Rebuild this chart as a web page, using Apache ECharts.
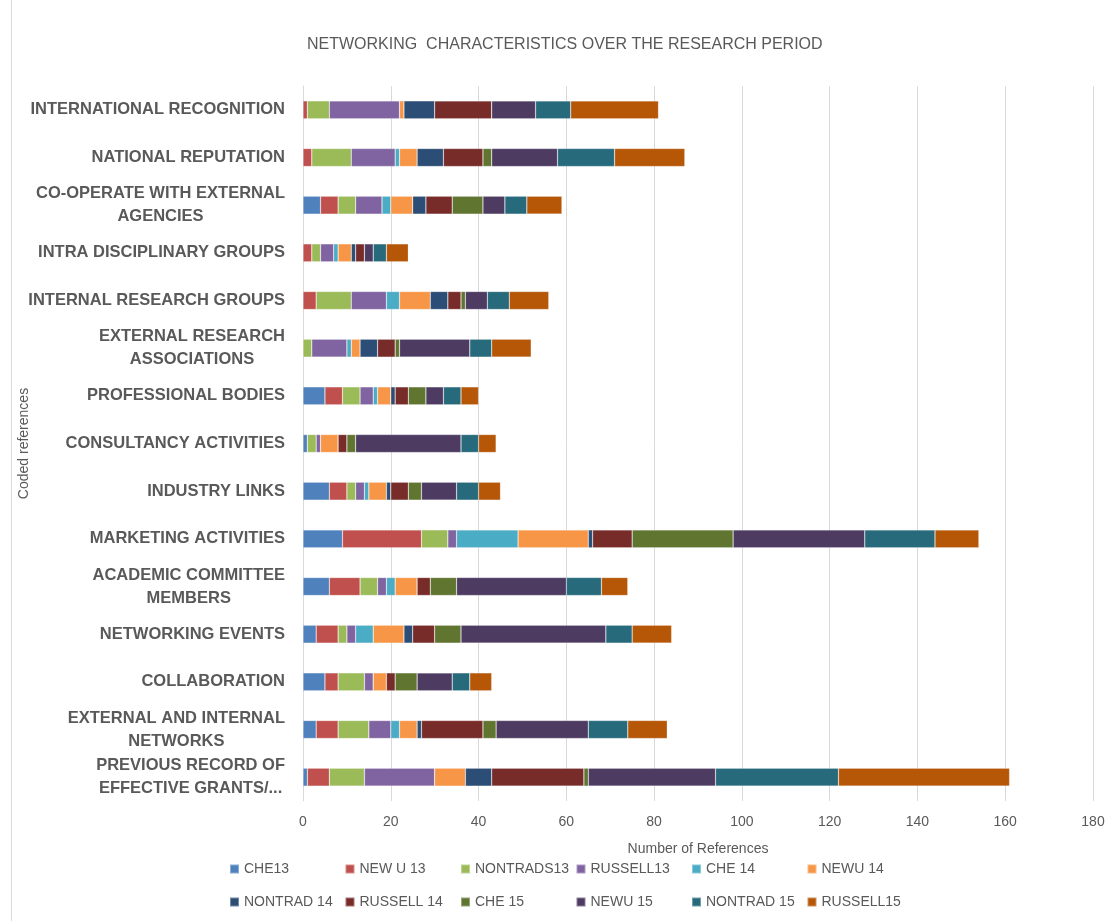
<!DOCTYPE html>
<html>
<head>
<meta charset="utf-8">
<script src="https://cdn.jsdelivr.net/npm/echarts@6/dist/echarts.min.js"></script>
<style>
  html, body { margin: 0; padding: 0; background: #ffffff; }
  #chart { width: 1109px; height: 921px; }
</style>
</head>
<body>
<div id="chart"></div>
<script>
// Coded themes, listed top to bottom
const categories = [
  'INTERNATIONAL RECOGNITION',
  'NATIONAL REPUTATION',
  'CO-OPERATE WITH EXTERNAL\nAGENCIES',
  'INTRA DISCIPLINARY GROUPS',
  'INTERNAL RESEARCH GROUPS',
  'EXTERNAL RESEARCH\nASSOCIATIONS',
  'PROFESSIONAL BODIES',
  'CONSULTANCY ACTIVITIES',
  'INDUSTRY LINKS',
  'MARKETING ACTIVITIES',
  'ACADEMIC COMMITTEE\nMEMBERS',
  'NETWORKING EVENTS',
  'COLLABORATION',
  'EXTERNAL AND INTERNAL\nNETWORKS',
  'PREVIOUS RECORD OF\nEFFECTIVE GRANTS/...'
];

// Number of references per institution group and year
const che13      = [0, 0, 4, 0, 0, 0, 5, 1, 6, 9, 6, 3, 5, 3, 1];
const newu13     = [1, 2, 4, 2, 3, 0, 4, 0, 4, 18, 7, 5, 3, 5, 5];
const nontrads13 = [5, 9, 4, 2, 8, 2, 4, 2, 2, 6, 4, 2, 6, 7, 8];
const russell13  = [16, 10, 6, 3, 8, 8, 3, 1, 2, 2, 2, 2, 2, 5, 16];
const che14      = [0, 1, 2, 1, 3, 1, 1, 0, 1, 14, 2, 4, 0, 2, 0];
const newu14     = [1, 4, 5, 3, 7, 2, 3, 4, 4, 16, 5, 7, 3, 4, 7];
const nontrad14  = [7, 6, 3, 1, 4, 4, 1, 0, 1, 1, 0, 2, 0, 1, 6];
const russell14  = [13, 9, 6, 2, 3, 4, 3, 2, 4, 9, 3, 5, 2, 14, 21];
const che15      = [0, 2, 7, 0, 1, 1, 4, 2, 3, 23, 6, 6, 5, 3, 1];
const newu15     = [10, 15, 5, 2, 5, 16, 4, 24, 8, 30, 25, 33, 8, 21, 29];
const nontrad15  = [8, 13, 5, 3, 5, 5, 4, 4, 5, 16, 8, 6, 4, 9, 28];
const russell15  = [20, 16, 8, 5, 9, 9, 4, 4, 5, 10, 6, 9, 5, 9, 39];

const seriesNames = ['CHE13', 'NEW U 13', 'NONTRADS13', 'RUSSELL13', 'CHE 14', 'NEWU 14',
                     'NONTRAD 14', 'RUSSELL 14', 'CHE 15', 'NEWU 15', 'NONTRAD 15', 'RUSSELL15'];
const seriesValues = [che13, newu13, nontrads13, russell13, che14, newu14,
                      nontrad14, russell14, che15, newu15, nontrad15, russell15];
const seriesColors = ['#4F81BD', '#C0504D', '#9BBB59', '#8064A2', '#4BACC6', '#F79646',
                      '#2C4D75', '#772C2A', '#5F7530', '#4D3B62', '#276A7C', '#B65708'];

const xTicks = { min: 0, max: 180, interval: 20 };

const FONT = "'Liberation Sans', Arial, sans-serif";
const GREY = '#595959';

const chart = echarts.init(document.getElementById('chart'), null, { renderer: 'canvas' });

// One legend entry per cell: six columns, two rows
const legends = seriesNames.map(function (name, i) {
  return {
    data: [name],
    left: 229 + (i % 6) * 115.5,
    top: i < 6 ? 862 : 895,
    padding: 0,
    itemWidth: 9, itemHeight: 9,
    icon: 'rect',
    textStyle: { color: GREY, fontSize: 14, fontFamily: FONT }
  };
});

chart.setOption({
  backgroundColor: '#ffffff',
  animation: false,
  title: {
    text: 'NETWORKING  CHARACTERISTICS OVER THE RESEARCH PERIOD',
    left: 302,
    top: 32,
    textStyle: { color: GREY, fontSize: 16, fontWeight: 'normal', fontFamily: FONT }
  },
  grid: { left: 303, right: 16, top: 86, bottom: 120, containLabel: false, outerBoundsMode: 'none' },
  legend: legends,
  xAxis: {
    type: 'value',
    min: xTicks.min, max: xTicks.max, interval: xTicks.interval,
    name: 'Number of References',
    nameLocation: 'middle',
    nameGap: 41,
    nameTextStyle: { color: GREY, fontSize: 14, fontFamily: FONT },
    axisLine: { show: false },
    axisTick: { show: false },
    axisLabel: { color: GREY, fontSize: 14, fontFamily: FONT, margin: 14 },
    splitLine: { show: true, lineStyle: { color: '#D9D9D9', width: 1 } }
  },
  yAxis: {
    type: 'category',
    data: categories,
    inverse: true,
    name: 'Coded references',
    nameLocation: 'middle',
    nameGap: 272,
    nameRotate: 90,
    nameMoveOverlap: false,
    nameTextStyle: { color: GREY, fontSize: 14, fontFamily: FONT },
    axisLine: { show: true, lineStyle: { color: '#D9D9D9' } },
    axisTick: { show: false },
    axisLabel: {
      margin: 18,
      formatter: function (v) {
        return v.split('\n').map(function (l) { return '{c|' + l + '}'; }).join('\n');
      },
      rich: {
        c: { align: 'center', color: GREY, fontSize: 16.5, fontWeight: 'bold', fontFamily: FONT, lineHeight: 23 }
      }
    }
  },
  series: seriesNames.map(function (name, i) {
    return {
      name: name,
      type: 'bar',
      stack: 'total',
      barWidth: 18,
      data: seriesValues[i],
      itemStyle: { color: seriesColors[i], borderColor: 'rgba(255,255,255,0.35)', borderWidth: 0.6 }
    };
  }),
  graphic: [
    {
      type: 'line',
      shape: { x1: 11.5, y1: 0, x2: 11.5, y2: 921 },
      style: { stroke: '#D9D9D9', lineWidth: 1 }
    }
  ]
});
</script>
</body>
</html>
